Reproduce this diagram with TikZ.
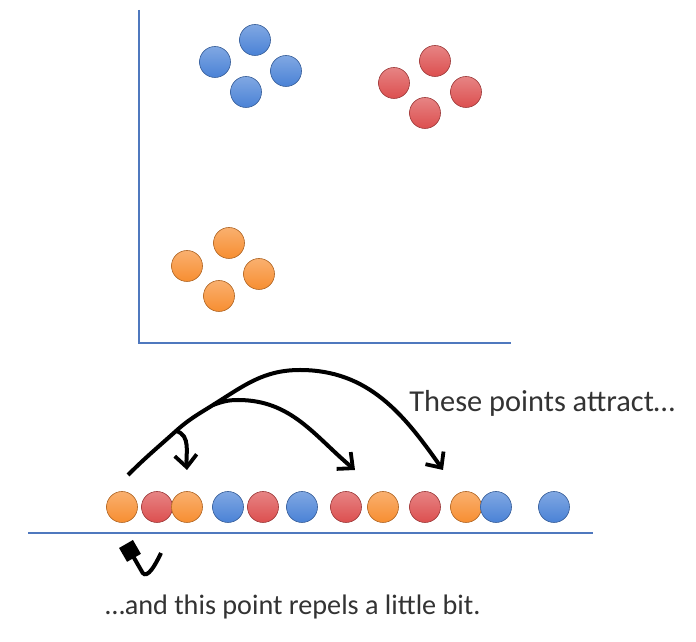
\documentclass[tikz,border=0pt]{standalone}
\usepackage{fontspec}
\setmainfont{Carlito}
\usetikzlibrary{arrows.meta}
\definecolor{axisblue}{HTML}{4F78BE}
\definecolor{txtgray}{HTML}{333333}
\definecolor{ptblue}{HTML}{4A82D6}
\definecolor{ptred}{HTML}{DC4F4F}
\definecolor{ptorange}{HTML}{F78E31}

\begin{document}
\begin{tikzpicture}[
    x=0.5pt, y=0.5pt,
    font=\fontsize{14}{16}\selectfont,
    dot/.style={circle, minimum size=15.5pt, inner sep=0pt, draw=#1!70!black, line width=0.3pt},
    bdot/.style={dot=ptblue, top color=ptblue!70!white, bottom color=ptblue},
    rdot/.style={dot=ptred, top color=ptred!70!white, bottom color=ptred},
    odot/.style={dot=ptorange, top color=ptorange!70!white, bottom color=ptorange},
    axis/.style={axisblue, line width=1.2pt},
    arr/.style={-{Straight Barb[length=6pt, width=11pt, line width=1.9pt]}, line width=2pt},
    lbl/.style={text=txtgray, inner sep=0pt}
  ]
  \useasboundingbox (0,0) rectangle (696,642);

  % axes of the 2-d map
  \coordinate (ytop) at (139,632);
  \coordinate (orig) at (139,299);
  \coordinate (xend) at (511,299);
  \draw[axis] (ytop) -- (orig) -- (xend);

  % clusters
  \node[bdot] (b1) at (215,580) {};
  \node[bdot] (b2) at (255,602) {};
  \node[bdot] (b3) at (286,571) {};
  \node[bdot] (b4) at (246,550) {};
  \node[rdot] (r1) at (394,559) {};
  \node[rdot] (r2) at (435,581) {};
  \node[rdot] (r3) at (466,550) {};
  \node[rdot] (r4) at (425,529) {};
  \node[odot] (o1) at (187,376) {};
  \node[odot] (o2) at (229,399) {};
  \node[odot] (o3) at (259,368) {};
  \node[odot] (o4) at (219,346) {};

  % 1-d line
  \coordinate (lineL) at (28,109);
  \coordinate (lineR) at (593,109);
  \draw[axisblue, line width=1pt] (lineL) -- (lineR);
  \foreach \x/\s [count=\i] in {122/odot, 157/rdot, 187/odot, 228/bdot, 263/rdot, 302/bdot,
                                346/rdot, 383/odot, 425/rdot, 466/odot, 496/bdot, 554/bdot}
    \node[\s] (p\i) at (\x,135) {};

  % attraction arrows
  \coordinate (src) at (128,167);
  \coordinate (fork1) at (176,211);
  \coordinate (fork2) at (213,237);
  \coordinate (peak) at (300,272);
  \coordinate (tgt1) at (187,172);
  \coordinate (tgt2) at (355,172);
  \coordinate (tgt3) at (443,172);
  \draw[arr] (src) to[out=45,in=222] (fork1) to[out=42,in=212] (fork2)
    to[out=32,in=180] (peak) to[out=0,in=125] (tgt3);
  \draw[arr] (fork2) to[out=20,in=180] (238,242) to[out=0,in=140] (tgt2);
  \draw[arr] (fork1) to[out=-15,in=95] (tgt1);

  % repulsion arrow
  \coordinate (rep0) at (161,89);
  \coordinate (rep1) at (126,98);
  \draw[line width=2pt, -{Square[length=8pt, width=8pt]}] (rep0) .. controls (152,70) and (145,62) .. (141,72) -- (rep1);

  \node[lbl, anchor=west, font=\fontsize{15.2}{17}\selectfont] (attract) at (409,239) {These points attract\dots};
  \node[lbl, font=\fontsize{14.1}{16}\selectfont] (repel) at (293,35) {\dots and this point repels a little bit.};
\end{tikzpicture}
\end{document}
